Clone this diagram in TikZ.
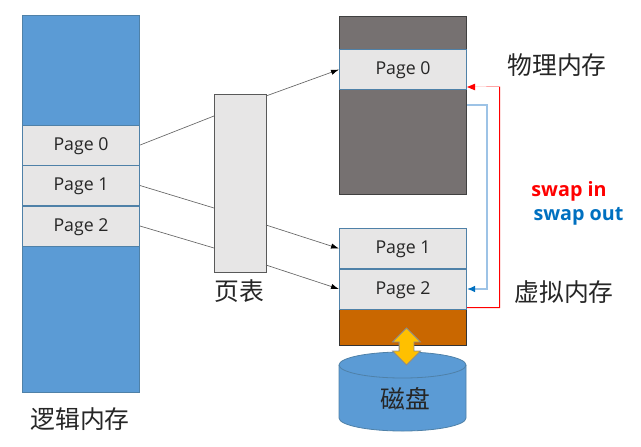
\documentclass[tikz,border=0pt]{standalone}
\usepackage{fontspec}
\setmainfont{Open Sans}
\newfontfamily\cjk{Noto Sans CJK SC}
\usetikzlibrary{shapes.arrows,arrows.meta}
\definecolor{memblue}{HTML}{5B9BD5}
\definecolor{pagegray}{HTML}{E7E6E6}
\definecolor{memdark}{HTML}{767171}
\definecolor{memorange}{HTML}{C96700}
\definecolor{arrowyellow}{HTML}{FFC000}
\definecolor{edgeblue}{HTML}{4F81A8}
\definecolor{swapblue}{HTML}{0070C0}
\definecolor{lightblue}{HTML}{9DC3E6}
\definecolor{inktext}{HTML}{262626}
\definecolor{swapred}{HTML}{FF0000}
\tikzset{
  x=0.75pt,y=-0.75pt,
  block/.style={draw,inner sep=0pt,line width=0.8pt,anchor=north west},
  pagebox/.style={block,draw=edgeblue,fill=pagegray,text=inktext,text height=10pt,text depth=2pt,
     minimum width=87pt,minimum height=30pt,font=\fontsize{13.3}{15}\selectfont},
  cnlabel/.style={text=inktext,inner sep=0pt,font=\cjk\fontsize{18.6}{20}\selectfont},
  link/.style={draw=black!60,line width=0.5pt},
  linkarrow/.style={link,-{Latex[black,length=6pt,width=4pt]}},
  swaplabel/.style={inner sep=0pt,font=\bfseries\fontsize{14.8}{16}\selectfont},
}
\begin{document}
\begin{tikzpicture}
\useasboundingbox (0,0) rectangle (641,446);
% left column
\node[block,draw=edgeblue,fill=memblue,minimum width=87.75pt,minimum height=282.75pt] (logic) at (22,15) {};
\node[pagebox,minimum width=87.75pt] (lp0) at (22,124.5) {Page 0};
\node[pagebox,minimum width=87.75pt] (lp1) at (22,165) {Page 1};
\node[pagebox,minimum width=87.75pt] (lp2) at (22,205.5) {Page 2};
\node[cnlabel] (logiclabel) at (80,419) {逻辑内存};
% page table
\node[block,draw=black!65,fill=pagegray,minimum width=39pt,minimum height=133.5pt] (tbl) at (214,94) {};
\node[cnlabel] (tbllabel) at (239,291) {页表};
\coordinate (ti0) at (214,116);
\coordinate (ti1) at (214,208);
\coordinate (ti2) at (214,248);
\coordinate (to0) at (266,96);
\coordinate (to1) at (266,225);
\coordinate (to2) at (266,265);
% physical memory
\node[block,draw=black!75,fill=memdark,minimum width=95.25pt,minimum height=133.5pt] (phys) at (339,16) {};
\node[pagebox,minimum width=95.25pt] (rp0) at (339,49) {Page 0};
\node[cnlabel] (physlabel) at (557,65) {物理内存};
% virtual memory
\node[block,draw=black!80,fill=memorange,minimum width=95.25pt,minimum height=27pt] (swaparea) at (339,309) {};
\node[pagebox,minimum width=95.25pt] (rp1) at (339,228) {Page 1};
\node[pagebox,minimum width=95.25pt] (rp2) at (339,268.5) {Page 2};
\node[cnlabel] (virtlabel) at (564,292) {虚拟内存};
% disk
\path[draw=edgeblue,fill=memblue,line width=0.6pt]
  (339,365) arc[x radius=63.5,y radius=13,start angle=180,end angle=360]
  -- (466,418) arc[x radius=63.5,y radius=13,start angle=0,end angle=180] -- cycle;
\draw[edgeblue,line width=0.6pt] (339,365) arc[x radius=63.5,y radius=13,start angle=180,end angle=0];
\node[cnlabel] (disklabel) at (405.5,399) {磁盘};
\node[double arrow,draw=black!45,fill=arrowyellow,line width=0.6pt,inner sep=0pt,
  minimum height=27.75pt,minimum width=0pt,double arrow head extend=4.9pt,
  double arrow tip angle=90,rotate=90,text height=10.5pt,text depth=0pt,text width=1pt] (io) at (406.5,346.5) {};
% links
\draw[link] (lp0.east) -- (ti0);
\draw[link] (lp1.east) -- (ti1);
\draw[link] (lp2.east) -- (ti2);
\draw[linkarrow] (to0) -- (rp0.west);
\draw[linkarrow] (to1) -- (rp1.west);
\draw[linkarrow] (to2) -- (rp2.west);
% swap paths
\coordinate (bluestart) at (467,105);
\coordinate (bluecornerA) at (487,105);
\coordinate (bluecornerB) at (487,289);
\coordinate (blueend) at (467,289);
\draw[draw=lightblue,line width=1pt,-{Latex[swapblue,length=6pt,width=5pt]}] (bluestart) -- (bluecornerA) -- (bluecornerB) -- (blueend);
\coordinate (redstartA) at (467,307);
\coordinate (redstartB) at (467,308);
\coordinate (redendA) at (474,87.5);
\coordinate (redendB) at (474,86.5);
\fill[swapred] (redstartA) -- (499,307) -- (499,87) -- (redendB) -- (474,86.5) -- (500,86.5) -- (500,308) -- (redstartB) -- cycle;
\fill[swapred] (467,87) -- (475,83.7) -- (475,90.3) -- cycle;
\node[swaplabel,text=swapred] (swapin) at (569,191) {swap in};
\node[swaplabel,text=swapblue] (swapout) at (578.5,216) {swap out};
\end{tikzpicture}
\end{document}
